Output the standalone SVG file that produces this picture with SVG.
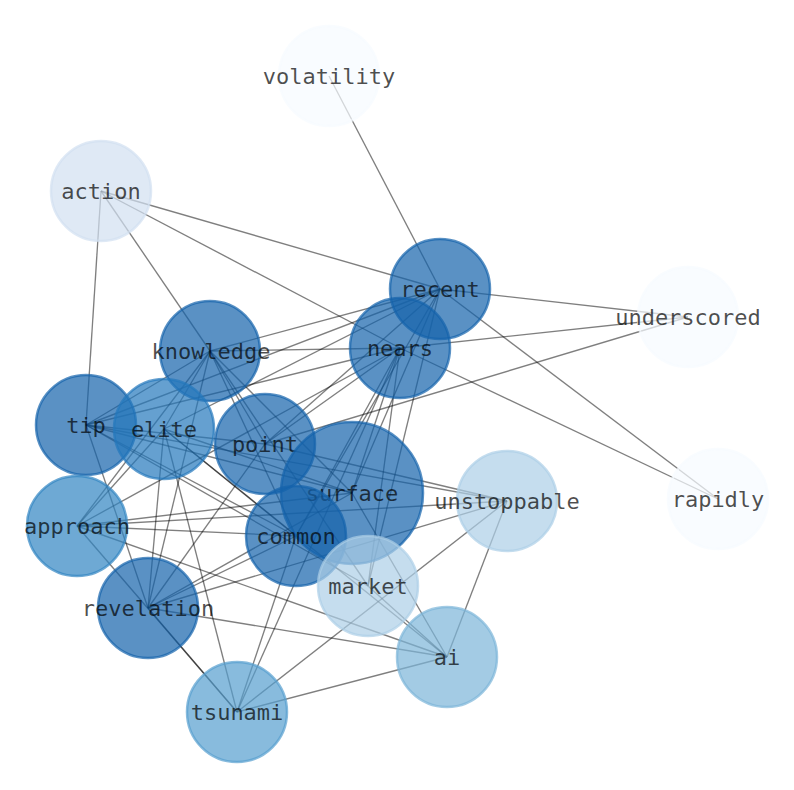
<svg xmlns="http://www.w3.org/2000/svg" width="794" height="790" viewBox="0 0 794 790">
<style>
.e{stroke:#000;stroke-opacity:0.5;stroke-width:1.35;fill:none}
.n circle{stroke-width:2.5;fill-opacity:0.7;stroke-opacity:0.7}
.n text{font-family:"DejaVu Sans Mono","Liberation Mono",monospace;font-size:22px;text-anchor:middle;fill:#000;fill-opacity:0.7}
.c0 circle{fill:#f7fbff;stroke:#f7fbff}
.c1 circle{fill:#d1e0f1;stroke:#d1e0f1}
.c2 circle{fill:#accee7;stroke:#accee7}
.c3 circle{fill:#7cb5d9;stroke:#7cb5d9}
.c4 circle{fill:#569ecf;stroke:#569ecf}
.c5 circle{fill:#3184c2;stroke:#3184c2}
.c6 circle{fill:#2377bc;stroke:#2377bc}
.c7 circle{fill:#1463ab;stroke:#1463ab}
</style>
<rect width="794" height="790" fill="#fff"/>
<g id="edges">
<line class="e" x1="329" y1="76" x2="440" y2="289"/>
<line class="e" x1="440" y1="289" x2="718" y2="499"/>
<line class="e" x1="440" y1="289" x2="688" y2="317"/>
<line class="e" x1="101" y1="191" x2="440" y2="289"/>
<line class="e" x1="101" y1="191" x2="400" y2="348"/>
<line class="e" x1="400" y1="348" x2="718" y2="499"/>
<line class="e" x1="101" y1="191" x2="210" y2="351"/>
<line class="e" x1="101" y1="191" x2="86" y2="425"/>
<line class="e" x1="210" y1="351" x2="440" y2="289"/>
<line class="e" x1="210" y1="351" x2="400" y2="348"/>
<line class="e" x1="86" y1="425" x2="440" y2="289"/>
<line class="e" x1="86" y1="425" x2="400" y2="348"/>
<line class="e" x1="265" y1="444" x2="440" y2="289"/>
<line class="e" x1="265" y1="444" x2="400" y2="348"/>
<line class="e" x1="400" y1="348" x2="688" y2="317"/>
<line class="e" x1="265" y1="444" x2="688" y2="317"/>
<line class="e" x1="265" y1="444" x2="507" y2="501"/>
<line class="e" x1="86" y1="425" x2="507" y2="501"/>
<line class="e" x1="77" y1="526" x2="507" y2="501"/>
<line class="e" x1="148" y1="608" x2="507" y2="501"/>
<line class="e" x1="237" y1="712" x2="507" y2="501"/>
<line class="e" x1="507" y1="501" x2="447" y2="657"/>
<line class="e" x1="164" y1="429" x2="447" y2="657"/>
<line class="e" x1="352" y1="493" x2="447" y2="657"/>
<line class="e" x1="77" y1="526" x2="447" y2="657"/>
<line class="e" x1="148" y1="608" x2="447" y2="657"/>
<line class="e" x1="237" y1="712" x2="447" y2="657"/>
<line class="e" x1="368" y1="586" x2="447" y2="657"/>
<line class="e" x1="77" y1="526" x2="237" y2="712"/>
<line class="e" x1="148" y1="608" x2="237" y2="712"/>
<line class="e" x1="164" y1="429" x2="237" y2="712"/>
<line class="e" x1="296" y1="536" x2="237" y2="712"/>
<line class="e" x1="400" y1="348" x2="237" y2="712"/>
<line class="e" x1="86" y1="425" x2="148" y2="608"/>
<line class="e" x1="164" y1="429" x2="148" y2="608"/>
<line class="e" x1="210" y1="351" x2="148" y2="608"/>
<line class="e" x1="148" y1="608" x2="265" y2="444"/>
<line class="e" x1="148" y1="608" x2="296" y2="536"/>
<line class="e" x1="148" y1="608" x2="352" y2="493"/>
<line class="e" x1="400" y1="348" x2="368" y2="586"/>
<line class="e" x1="440" y1="289" x2="368" y2="586"/>
<line class="e" x1="210" y1="351" x2="368" y2="586"/>
<line class="e" x1="86" y1="425" x2="368" y2="586"/>
<line class="e" x1="400" y1="348" x2="296" y2="536"/>
<line class="e" x1="400" y1="348" x2="352" y2="493"/>
<line class="e" x1="440" y1="289" x2="352" y2="493"/>
<line class="e" x1="440" y1="289" x2="296" y2="536"/>
<line class="e" x1="210" y1="351" x2="296" y2="536"/>
<line class="e" x1="210" y1="351" x2="265" y2="444"/>
<line class="e" x1="210" y1="351" x2="352" y2="493"/>
<line class="e" x1="210" y1="351" x2="86" y2="425"/>
<line class="e" x1="210" y1="351" x2="164" y2="429"/>
<line class="e" x1="77" y1="526" x2="210" y2="351"/>
<line class="e" x1="77" y1="526" x2="164" y2="429"/>
<line class="e" x1="77" y1="526" x2="352" y2="493"/>
<line class="e" x1="77" y1="526" x2="296" y2="536"/>
<line class="e" x1="77" y1="526" x2="400" y2="348"/>
<line class="e" x1="86" y1="425" x2="352" y2="493"/>
<line class="e" x1="86" y1="425" x2="296" y2="536"/>
<line class="e" x1="86" y1="425" x2="265" y2="444"/>
<line class="e" x1="164" y1="429" x2="440" y2="289"/>
<line class="e" x1="164" y1="429" x2="352" y2="493"/>
<line class="e" x1="164" y1="429" x2="296" y2="536"/>
</g>
<g id="volatility" class="n c0"><circle cx="329" cy="76" r="50"/><text x="329" y="84">volatility</text></g>
<g id="action" class="n c1"><circle cx="101" cy="191" r="50"/><text x="101" y="199">action</text></g>
<g id="recent" class="n c7"><circle cx="440" cy="289" r="50"/><text x="440" y="297">recent</text></g>
<g id="underscored" class="n c0"><circle cx="688" cy="317" r="50"/><text x="688" y="325">underscored</text></g>
<g id="nears" class="n c7"><circle cx="400" cy="348" r="50"/><text x="400" y="356">nears</text></g>
<g id="knowledge" class="n c7"><circle cx="210" cy="351" r="50"/><text x="211" y="359">knowledge</text></g>
<g id="tip" class="n c7"><circle cx="86" cy="425" r="50"/><text x="86" y="433">tip</text></g>
<g id="elite" class="n c6"><circle cx="164" cy="429" r="50"/><text x="164" y="437">elite</text></g>
<g id="point" class="n c7"><circle cx="265" cy="444" r="50"/><text x="265" y="452">point</text></g>
<g id="surface" class="n c7"><circle cx="352" cy="493" r="71"/><text x="352" y="501">surface</text></g>
<g id="common" class="n c7"><circle cx="296" cy="536" r="50"/><text x="296" y="544">common</text></g>
<g id="unstoppable" class="n c2"><circle cx="507" cy="501" r="50"/><text x="507" y="509">unstoppable</text></g>
<g id="rapidly" class="n c0"><circle cx="718" cy="499" r="50"/><text x="718" y="507">rapidly</text></g>
<g id="approach" class="n c5"><circle cx="77" cy="526" r="50"/><text x="77" y="534">approach</text></g>
<g id="market" class="n c2"><circle cx="368" cy="586" r="50"/><text x="368" y="594">market</text></g>
<g id="revelation" class="n c7"><circle cx="148" cy="608" r="50"/><text x="148" y="616">revelation</text></g>
<g id="ai" class="n c3"><circle cx="447" cy="657" r="50"/><text x="447" y="665">ai</text></g>
<g id="tsunami" class="n c4"><circle cx="237" cy="712" r="50"/><text x="237" y="720">tsunami</text></g>
</svg>
